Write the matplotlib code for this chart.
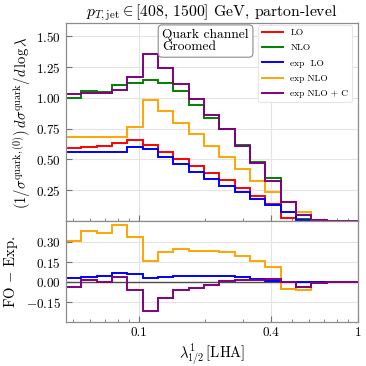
import matplotlib
matplotlib.use("Agg")
import matplotlib.pyplot as plt
from matplotlib.ticker import FixedLocator, FuncFormatter, NullFormatter, LogLocator

plt.rcParams['font.family'] = 'serif'
plt.rcParams['font.serif'] = ['cmr10']
plt.rcParams['mathtext.fontset'] = 'cm'
plt.rcParams['axes.formatter.use_mathtext'] = True

# bin edges in lambda (log-spaced histogram bins)
edges = [0.0465, 0.0546, 0.0642, 0.0754, 0.0886, 0.104, 0.122, 0.144, 0.169, 0.198,
         0.233, 0.274, 0.322, 0.378, 0.444, 0.522, 0.613, 0.720, 0.846, 1.0]

# main panel distributions
LO = [0.594, 0.603, 0.611, 0.630, 0.655, 0.620, 0.562, 0.505, 0.449, 0.392,
      0.335, 0.268, 0.203, 0.135, 0.022, 0.005, 0.0, 0.0, 0.0]
NLO = [1.000, 1.058, 1.045, 1.104, 1.118, 1.142, 1.125, 1.055, 0.940, 0.839,
       0.744, 0.620, 0.482, 0.350, 0.152, 0.016, 0.003, 0.0, 0.0]
exp_LO = [0.557, 0.557, 0.560, 0.563, 0.603, 0.584, 0.522, 0.465, 0.400, 0.344,
          0.287, 0.233, 0.176, 0.130, 0.075, 0.005, 0.0, 0.0, 0.0]
exp_NLO = [0.684, 0.684, 0.684, 0.684, 0.766, 0.982, 0.893, 0.800, 0.704, 0.612,
           0.517, 0.420, 0.327, 0.238, 0.152, 0.071, 0.008, 0.0, 0.0]
exp_NLO_C = [1.033, 1.042, 1.042, 1.062, 1.170, 1.360, 1.245, 1.115, 0.990, 0.862,
             0.745, 0.613, 0.474, 0.328, 0.152, 0.053, 0.005, 0.0, 0.0]

# lower panel: FO - Exp.
diff_LO = [0.036, 0.043, 0.050, 0.068, 0.062, 0.035, 0.040, 0.045, 0.050, 0.050,
           0.050, 0.038, 0.028, 0.008, -0.048, 0.0, 0.0, 0.0, 0.0]
diff_NLO = [0.310, 0.383, 0.370, 0.430, 0.343, 0.163, 0.230, 0.250, 0.235, 0.232,
            0.230, 0.195, 0.158, 0.113, -0.048, -0.056, -0.005, 0.0, 0.0]
diff_NLO_C = [-0.033, 0.018, 0.005, 0.043, -0.058, -0.215, -0.120, -0.058, -0.045, -0.018,
              0.008, 0.015, 0.020, 0.028, 0.0, -0.037, -0.005, 0.0, 0.0]

labels = ['LO', 'NLO', 'exp  LO', 'exp NLO', 'exp NLO + C']
colors = ['red', 'green', 'blue', 'orange', 'purple']

xticks = [0.1, 0.4, 1.0]
xticklabels = ['0.1', '0.4', '1']
main_yticks = [0.25, 0.50, 0.75, 1.00, 1.25, 1.50]
ratio_yticks = [-0.15, 0.0, 0.15, 0.30]

fig = plt.figure(figsize=(3.66, 3.66), dpi=100)
ax = fig.add_axes([0.180, 0.396, 0.798, 0.540])
rax = fig.add_axes([0.180, 0.121, 0.798, 0.275], sharex=ax)

lw = 1.4
for vals, lab, col in zip([LO, NLO, exp_LO, exp_NLO, exp_NLO_C], labels, colors):
    ax.stairs(vals, edges, color=col, lw=lw, label=lab, baseline=0)

rax.axhline(0, color='0.3', lw=1.0, zorder=1)
for vals, col in zip([diff_LO, diff_NLO, diff_NLO_C], ['blue', 'orange', 'purple']):
    rax.stairs(vals, edges, color=col, lw=lw, baseline=0, zorder=2)

for a in (ax, rax):
    a.set_xscale('log')
    a.set_xlim(edges[0], edges[-1])
    a.grid(True, which='major', color='#e3e3e3', lw=0.8)
    a.set_axisbelow(True)
    for s in a.spines.values():
        s.set_color('0.55')
        s.set_linewidth(0.9)
    a.tick_params(which='both', direction='in', colors='0.45', labelcolor='black', labelsize=9.5)
    a.tick_params(which='major', length=4)
    a.tick_params(which='minor', length=2)
    a.xaxis.set_major_locator(FixedLocator(xticks))
    a.xaxis.set_minor_locator(LogLocator(base=10, subs=range(2, 10)))
    a.xaxis.set_minor_formatter(NullFormatter())

ax.tick_params(labelbottom=False)
rax.xaxis.set_major_formatter(FuncFormatter(lambda v, p: xticklabels[xticks.index(v)] if v in xticks else ''))

ax.set_ylim(0, 1.605)
ax.yaxis.set_major_locator(FixedLocator(main_yticks))
ax.yaxis.set_major_formatter(FuncFormatter(lambda v, p: f'${v:.2f}$'))
rax.set_ylim(-0.296, 0.46)
rax.yaxis.set_major_locator(FixedLocator(ratio_yticks))
rax.yaxis.set_major_formatter(FuncFormatter(lambda v, p: f'${v:.2f}$'))

ax.set_title(r'$p_{T,\mathrm{jet}} \in [408,\, 1500]$ GeV, parton-level', fontsize=11.3, pad=3)
ax.set_ylabel(r'$(1/\sigma^{\mathrm{quark},(0)})\, d\sigma^{\mathrm{quark}}/d\,\log\lambda$', fontsize=10.5, labelpad=2)
rax.set_ylabel(r'FO $-$ Exp.', fontsize=10.5, labelpad=4)
rax.set_xlabel(r'$\lambda^{1}_{1/2}\,[\mathrm{LHA}]$', fontsize=10.5, labelpad=2)
fig.align_ylabels([ax, rax])

ax.text(0.33, 0.972, 'Quark channel\nGroomed', transform=ax.transAxes, ha='left', va='top',
        fontsize=9.7, linespacing=1.0,
        bbox=dict(boxstyle='round,pad=0.3', fc='white', ec='0.55', lw=0.8))

leg = ax.legend(loc='upper right', bbox_to_anchor=(0.985, 1.0), fontsize=6.8,
                handlelength=2.2, labelspacing=0.7, handletextpad=0.8,
                borderaxespad=0.15, frameon=True, fancybox=True,
                framealpha=1.0, borderpad=0.4)
leg.get_frame().set_edgecolor('#e6e6e6')
leg.get_frame().set_linewidth(0.8)

fig.savefig('out.png', dpi=100)
